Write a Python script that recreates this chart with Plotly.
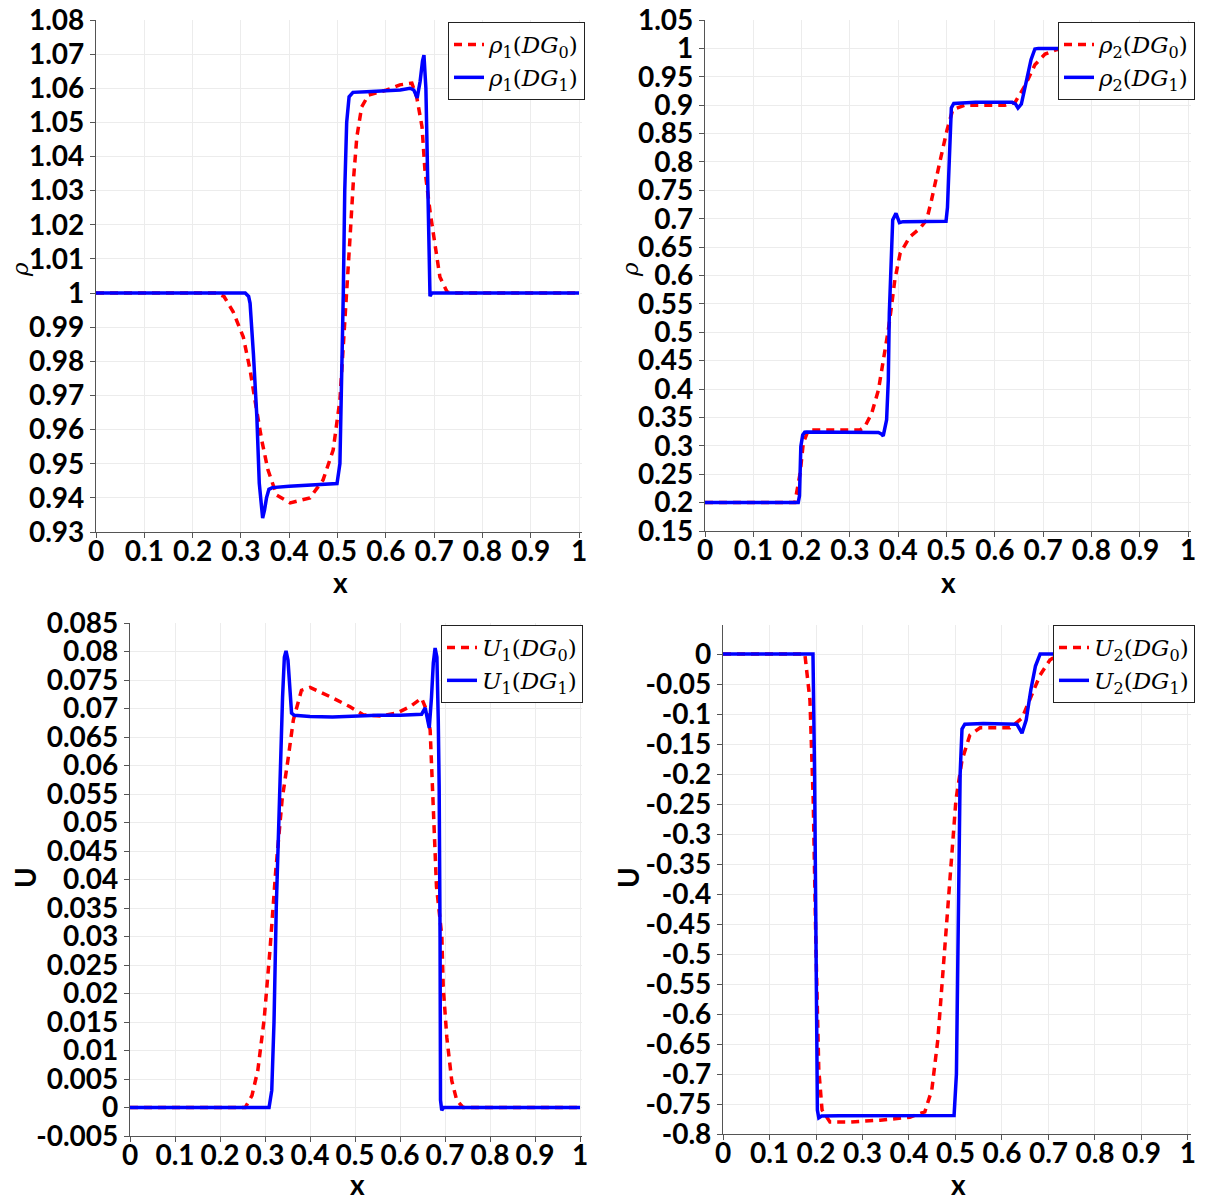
import plotly.graph_objects as go

# ---- density, species 1 ----
rho1_dg0_x = [0, 0.25, 0.265, 0.284, 0.305, 0.319, 0.329, 0.343, 0.356, 0.374, 0.402, 0.443, 0.47,
              0.491, 0.505, 0.516, 0.526, 0.533, 0.54, 0.55, 0.564, 0.602, 0.629, 0.654, 0.664, 0.675,
              0.681, 0.692, 0.702, 0.712, 0.727, 0.74, 1.0]
rho1_dg0_y = [1, 1, 0.999, 0.9945, 0.9871, 0.9775, 0.9687, 0.957, 0.9482, 0.9408, 0.9385, 0.940, 0.9452,
              0.954, 0.9687, 0.992, 1.0164, 1.0331, 1.0457, 1.0545, 1.058, 1.0595, 1.061, 1.0615, 1.0574,
              1.0487, 1.036, 1.0235, 1.0135, 1.0047, 1.0003, 1.0, 1.0]
rho1_dg1_x = [0, 0.309, 0.316, 0.319, 0.326, 0.333, 0.338, 0.342, 0.345, 0.349, 0.353, 0.358, 0.365,
              0.40, 0.45, 0.499, 0.505, 0.509, 0.512, 0.515, 0.519, 0.524, 0.532, 0.56, 0.60, 0.63, 0.650,
              0.658, 0.665, 0.671, 0.676, 0.679, 0.683, 0.686, 0.689, 0.6915, 0.695, 1.0]
rho1_dg1_y = [1, 1, 0.999, 0.997, 0.982, 0.9638, 0.9443, 0.9365, 0.9341, 0.9365, 0.940, 0.9425, 0.9430,
              0.9434, 0.9438, 0.9442, 0.950, 0.975, 1.0, 1.03, 1.05, 1.0575, 1.0588, 1.0590, 1.0594,
              1.0595, 1.060, 1.0595, 1.0572, 1.062, 1.068, 1.0697, 1.060, 1.040, 1.010, 0.9991, 1.0, 1.0]

# ---- density, species 2 ----
rho2_dg0_x = [0, 0.186, 0.197, 0.2035, 0.214, 0.25, 0.30, 0.321, 0.331, 0.345, 0.359, 0.369, 0.3795,
              0.386, 0.393, 0.404, 0.424, 0.445, 0.459, 0.469, 0.476, 0.487, 0.501, 0.513, 0.538, 0.58,
              0.621, 0.642, 0.663, 0.683, 0.704, 0.725, 0.74, 1.0]
rho2_dg0_y = [0.2, 0.2, 0.252, 0.305, 0.328, 0.328, 0.328, 0.328, 0.3338, 0.357, 0.398, 0.446, 0.504,
              0.545, 0.592, 0.639, 0.668, 0.683, 0.698, 0.733, 0.763, 0.803, 0.856, 0.892, 0.90, 0.90,
              0.90, 0.905, 0.935, 0.971, 0.99, 0.997, 1.0, 1.0]
rho2_dg1_x = [0, 0.193, 0.1956, 0.1984, 0.2023, 0.2065, 0.2105, 0.25, 0.30, 0.359, 0.365, 0.369, 0.376,
              0.3795, 0.3816, 0.3845, 0.3886, 0.3954, 0.4025, 0.41, 0.46, 0.499, 0.502, 0.505, 0.507,
              0.510, 0.515, 0.56, 0.60, 0.636, 0.643, 0.648, 0.655, 0.665, 0.675, 0.683, 0.69, 1.0]
rho2_dg1_y = [0.2, 0.2, 0.212, 0.299, 0.319, 0.3240, 0.3244, 0.3245, 0.3245, 0.3235, 0.321, 0.3174,
              0.3458, 0.416, 0.533, 0.621, 0.698, 0.7096, 0.693, 0.6948, 0.6950, 0.6955, 0.72, 0.80,
              0.86, 0.895, 0.903, 0.905, 0.905, 0.905, 0.902, 0.895, 0.902, 0.94, 0.98, 0.999, 1.0, 1.0]

# ---- velocity, species 1 ----
u1_dg0_x = [0, 0.256, 0.271, 0.284, 0.298, 0.311, 0.324, 0.338, 0.351, 0.363, 0.381, 0.40, 0.444, 0.489,
            0.518, 0.556, 0.593, 0.622, 0.648, 0.659, 0.667, 0.674, 0.681, 0.693, 0.696, 0.704, 0.715,
            0.726, 0.74, 1.0]
u1_dg0_y = [0, 0, 0.0021, 0.0065, 0.0154, 0.0276, 0.0417, 0.054, 0.061, 0.068, 0.0732, 0.0737, 0.0721,
            0.0703, 0.0689, 0.0687, 0.0692, 0.0703, 0.0718, 0.0697, 0.0662, 0.0505, 0.0388, 0.030,
            0.0212, 0.0123, 0.0047, 0.0013, 0, 0]
u1_dg1_x = [0, 0.309, 0.315, 0.320, 0.325, 0.330, 0.335, 0.339, 0.343, 0.3467, 0.351, 0.355, 0.359,
            0.365, 0.40, 0.45, 0.50, 0.55, 0.60, 0.648, 0.656, 0.665, 0.670, 0.674, 0.678, 0.682, 0.685,
            0.687, 0.689, 0.690, 0.6927, 0.697, 1.0]
u1_dg1_y = [0, 0, 0.003, 0.015, 0.035, 0.050, 0.060, 0.072, 0.079, 0.0801, 0.0785, 0.074, 0.0692, 0.0688,
            0.0686, 0.0685, 0.0687, 0.0688, 0.0688, 0.0690, 0.0701, 0.0666, 0.072, 0.078, 0.0806, 0.079,
            0.068, 0.0563, 0.03, 0.0013, -0.0005, 0, 0]

# ---- velocity, species 2 ----
u2_dg0_x = [0, 0.176, 0.187, 0.194, 0.2, 0.206, 0.213, 0.23, 0.273, 0.338, 0.402, 0.434, 0.449, 0.462,
            0.475, 0.488, 0.501, 0.514, 0.531, 0.553, 0.617, 0.643, 0.66, 0.682, 0.703, 0.72, 1.0]
u2_dg0_y = [0, 0, -0.077, -0.243, -0.493, -0.693, -0.76, -0.78, -0.78, -0.777, -0.772, -0.763, -0.727,
            -0.643, -0.51, -0.377, -0.243, -0.177, -0.135, -0.123, -0.123, -0.107, -0.077, -0.035,
            -0.01, -0.002, 0]
u2_dg1_x = [0, 0.1935, 0.197, 0.2, 0.203, 0.206, 0.212, 0.25, 0.35, 0.45, 0.497, 0.502, 0.506, 0.510,
            0.514, 0.52, 0.56, 0.60, 0.632, 0.643, 0.652, 0.662, 0.672, 0.682, 0.70, 1.0]
u2_dg1_y = [0, 0, -0.2, -0.55, -0.76, -0.773, -0.770, -0.7695, -0.769, -0.769, -0.769, -0.70, -0.45,
            -0.20, -0.125, -0.117, -0.116, -0.116, -0.117, -0.132, -0.11, -0.06, -0.02, 0, 0, 0]

# ---- axis ticks ----
x_ticks = [0, 0.1, 0.2, 0.3, 0.4, 0.5, 0.6, 0.7, 0.8, 0.9, 1]
x_labels = ["0", "0.1", "0.2", "0.3", "0.4", "0.5", "0.6", "0.7", "0.8", "0.9", "1"]
rho1_ticks = [0.93, 0.94, 0.95, 0.96, 0.97, 0.98, 0.99, 1.0, 1.01, 1.02, 1.03, 1.04, 1.05, 1.06, 1.07, 1.08]
rho1_labels = ["0.93", "0.94", "0.95", "0.96", "0.97", "0.98", "0.99", "1", "1.01", "1.02", "1.03",
               "1.04", "1.05", "1.06", "1.07", "1.08"]
rho2_ticks = [0.15, 0.2, 0.25, 0.3, 0.35, 0.4, 0.45, 0.5, 0.55, 0.6, 0.65, 0.7, 0.75, 0.8, 0.85, 0.9,
              0.95, 1.0, 1.05]
rho2_labels = ["0.15", "0.2", "0.25", "0.3", "0.35", "0.4", "0.45", "0.5", "0.55", "0.6", "0.65", "0.7",
               "0.75", "0.8", "0.85", "0.9", "0.95", "1", "1.05"]
u1_ticks = [-0.005, 0, 0.005, 0.01, 0.015, 0.02, 0.025, 0.03, 0.035, 0.04, 0.045, 0.05, 0.055, 0.06,
            0.065, 0.07, 0.075, 0.08, 0.085]
u1_labels = ["-0.005", "0", "0.005", "0.01", "0.015", "0.02", "0.025", "0.03", "0.035", "0.04", "0.045",
             "0.05", "0.055", "0.06", "0.065", "0.07", "0.075", "0.08", "0.085"]
u2_ticks = [-0.8, -0.75, -0.7, -0.65, -0.6, -0.55, -0.5, -0.45, -0.4, -0.35, -0.3, -0.25, -0.2, -0.15,
            -0.1, -0.05, 0]
u2_labels = ["-0.8", "-0.75", "-0.7", "-0.65", "-0.6", "-0.55", "-0.5", "-0.45", "-0.4", "-0.35", "-0.3",
             "-0.25", "-0.2", "-0.15", "-0.1", "-0.05", "0"]

W, H = 1208, 1201
RED, BLUE = "#ff0000", "#0000ff"
SANS = dict(family="Lato", size=28, color="black", weight="bold")
SERIF = dict(family="DejaVu Serif", size=23, color="black")


def px_x(p):
    return p / W


def px_y(p):
    return 1 - p / H


panels = [
    # (axis suffix, x-domain px, y-domain px (bottom, top), x range, y range, yticks, ylabels,
    #  dg0 data, dg1 data, legend names, legend box (right, top))
    ("", (96, 582), (532, 20), [0, 1.0062], [0.93, 1.08], rho1_ticks, rho1_labels,
     (rho1_dg0_x, rho1_dg0_y), (rho1_dg1_x, rho1_dg1_y),
     ("<i>ρ</i><sub>1</sub>(<i>DG</i><sub>0</sub>)", "<i>ρ</i><sub>1</sub>(<i>DG</i><sub>1</sub>)"),
     (585, 22)),
    ("2", (705, 1191), (531, 20), [0, 1.0062], [0.15, 1.05], rho2_ticks, rho2_labels,
     (rho2_dg0_x, rho2_dg0_y), (rho2_dg1_x, rho2_dg1_y),
     ("<i>ρ</i><sub>2</sub>(<i>DG</i><sub>0</sub>)", "<i>ρ</i><sub>2</sub>(<i>DG</i><sub>1</sub>)"),
     (1195, 22)),
    ("3", (130, 582), (1136, 623), [0, 1.0044], [-0.005, 0.085], u1_ticks, u1_labels,
     (u1_dg0_x, u1_dg0_y), (u1_dg1_x, u1_dg1_y),
     ("<i>U</i><sub>1</sub>(<i>DG</i><sub>0</sub>)", "<i>U</i><sub>1</sub>(<i>DG</i><sub>1</sub>)"),
     (583, 625)),
    ("4", (723, 1191), (1134, 625.2), [0, 1.0065], [-0.8, 0.048], u2_ticks, u2_labels,
     (u2_dg0_x, u2_dg0_y), (u2_dg1_x, u2_dg1_y),
     ("<i>U</i><sub>2</sub>(<i>DG</i><sub>0</sub>)", "<i>U</i><sub>2</sub>(<i>DG</i><sub>1</sub>)"),
     (1195, 625)),
]

fig = go.Figure()
layout = dict(
    width=W, height=H, margin=dict(l=0, r=0, t=0, b=0, pad=0, autoexpand=False),
    paper_bgcolor="white", plot_bgcolor="white", showlegend=True,
)

for sfx, xd, yd, xr, yr, yt, yl, d0, d1, names, leg in panels:
    xa = "x" + sfx
    ya = "y" + sfx
    lg = "legend" + sfx
    fig.add_trace(go.Scatter(x=d0[0], y=d0[1], mode="lines", name=names[0], xaxis=xa, yaxis=ya,
                             legend=lg, line=dict(color=RED, width=3.5, dash="8px,6px")))
    fig.add_trace(go.Scatter(x=d1[0], y=d1[1], mode="lines", name=names[1], xaxis=xa, yaxis=ya,
                             legend=lg, line=dict(color=BLUE, width=3.5)))
    common = dict(showgrid=True, gridcolor="#ececec", gridwidth=1, showline=True, linecolor="#555555",
                  linewidth=1.2, ticks="outside", ticklen=5, tickcolor="#555555", zeroline=False,
                  tickfont=SANS, tickmode="array", automargin=False)
    layout["xaxis" + sfx] = dict(domain=[px_x(xd[0]), px_x(xd[1])], range=xr, anchor=ya,
                                 tickvals=x_ticks, ticktext=x_labels, ticklabelstandoff=-11, **common)
    layout["yaxis" + sfx] = dict(domain=[px_y(yd[0]), px_y(yd[1])], range=yr, anchor=xa,
                                 tickvals=yt, ticktext=yl, **common)
    layout[lg] = dict(x=px_x(leg[0]), y=px_y(leg[1]), xanchor="right", yanchor="top",
                      bgcolor="white", bordercolor="#222222", borderwidth=1, font=SERIF,
                      tracegroupgap=0, itemwidth=30)

fig.update_layout(**layout)

# axis titles
titles = [
    ("x", 340, 582, 0, SANS),
    ("x", 948, 582, 0, SANS),
    ("x", 357, 1184, 0, SANS),
    ("x", 958, 1184, 0, SANS),
    ("<i>ρ</i>", 20, 270, -90, SERIF),
    ("<i>ρ</i>", 630, 270, -90, SERIF),
    ("U", 25, 878, -90, SANS),
    ("U", 628, 878, -90, SANS),
]
for text, x, y, ang, font in titles:
    fig.add_annotation(text=text, x=px_x(x), y=px_y(y), xref="paper", yref="paper",
                       showarrow=False, textangle=ang, font=font, xanchor="center", yanchor="middle")

fig.write_html("out.html")
